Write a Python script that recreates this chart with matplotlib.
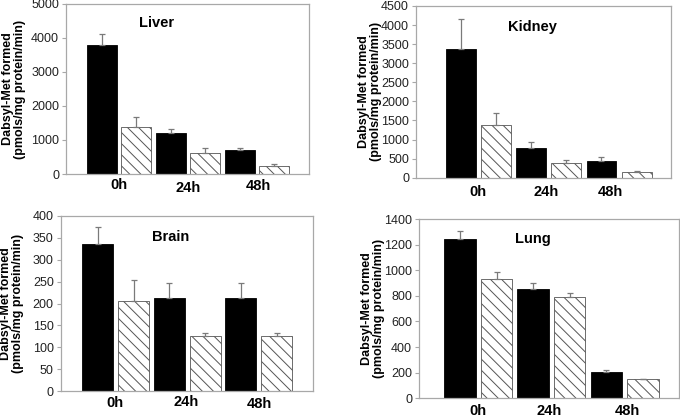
import numpy as np
import matplotlib
matplotlib.use("Agg")
import matplotlib.pyplot as plt

plt.rcParams['font.family'] = ['Liberation Sans', 'DejaVu Sans']
plt.rcParams['hatch.linewidth'] = 0.7

groups = ["0h", "24h", "48h"]
organs = ["Liver", "Kidney", "Brain", "Lung"]

# values per bar: 0h black, 0h hatched, 24h black, 24h hatched, 48h black, 48h hatched
liver_mean = [3800, 1380, 1200, 615, 700, 235]
liver_err = [320, 290, 120, 150, 65, 55]
kidney_mean = [3380, 1375, 770, 375, 445, 140]
kidney_err = [790, 330, 175, 95, 105, 28]
brain_mean = [336, 205, 213, 125, 213, 125]
brain_err = [38, 48, 35, 7, 35, 7]
lung_mean = [1245, 935, 852, 788, 208, 148]
lung_err = [63, 48, 45, 32, 13, 5]

y_max = [5000, 4500, 400, 1400]
y_step = [1000, 500, 50, 200]

# layout in pixels: left, right, top, bottom, xlim, bar width, label x, label y offsets, title xy, ylabel x
layout = {
    "Liver": dict(box=(66, 309, 4, 174), xlim=(-1.03, 6.01), w=0.87,
                  lx=[0.51, 2.51, 4.54], ly=[11, 14, 12], title=(157, 23), ylx=14),
    "Kidney": dict(box=(416, 671, 6, 177.7), xlim=(-1.28, 5.98), w=0.85,
                   lx=[0.49, 2.42, 4.24], ly=[14, 14, 14], title=(532, 27), ylx=370),
    "Brain": dict(box=(60.7, 312.7, 216, 391), xlim=(-1.04, 6.01), w=0.87,
                  lx=[0.48, 2.46, 4.51], ly=[12, 11, 13], title=(171, 237), ylx=12),
    "Lung": dict(box=(419, 679, 219, 398.3), xlim=(-1.12, 5.99), w=0.86,
                 lx=[0.49, 2.45, 4.58], ly=[13, 13, 13], title=(533, 239), ylx=373),
}

means = {"Liver": liver_mean, "Kidney": kidney_mean, "Brain": brain_mean, "Lung": lung_mean}
errs = {"Liver": liver_err, "Kidney": kidney_err, "Brain": brain_err, "Lung": lung_err}

W, H = 680, 418
fig = plt.figure(figsize=(W / 100, H / 100), dpi=100)

frame_col = "#a8a8a8"

for i, organ in enumerate(organs):
    lay = layout[organ]
    l, r, t, b = lay["box"]
    ax = fig.add_axes([l / W, 1 - b / H, (r - l) / W, (b - t) / H])

    x = np.arange(6)
    m = np.array(means[organ])
    e = np.array(errs[organ])
    black = x % 2 == 0
    ax.bar(x[black], m[black], width=lay["w"], color="black", edgecolor="black", linewidth=0.6)
    ax.bar(x[~black], m[~black], width=lay["w"], color="white", edgecolor="#555555",
           linewidth=0.6, hatch="\\\\\\")
    ax.errorbar(x, m, yerr=[np.zeros(6), e], fmt="none", ecolor="#7a7a7a",
                elinewidth=0.9, capsize=2.5, capthick=0.9)

    ax.set_xlim(*lay["xlim"])
    ax.set_ylim(0, y_max[i])
    ax.set_yticks(np.arange(0, y_max[i] + 1, y_step[i]))
    ax.set_xticks([])
    ax.tick_params(axis="y", direction="out", length=3, width=0.8, color=frame_col,
                   labelsize=9, pad=2, labelcolor="#222222")
    for s in ax.spines.values():
        s.set_color(frame_col)
        s.set_linewidth(0.9)

    for j, g in enumerate(groups):
        ax.annotate(g, xy=(lay["lx"][j], 0), xycoords=("data", "axes fraction"),
                    xytext=(0, -lay["ly"][j] * 0.72), textcoords="offset points",
                    ha="center", va="center", fontsize=10.5, fontweight="bold")

    tx, ty = lay["title"]
    fig.text(tx / W, 1 - ty / H, organ, ha="center", va="center",
             fontsize=10.5, fontweight="bold")
    fig.text(lay["ylx"] / W, 1 - (t + b) / 2 / H,
             "Dabsyl-Met formed\n(pmols/mg protein/min)", rotation=90,
             ha="center", va="center", fontsize=9, fontweight="bold",
             linespacing=1.05)

fig.savefig("out.png", dpi=100)
